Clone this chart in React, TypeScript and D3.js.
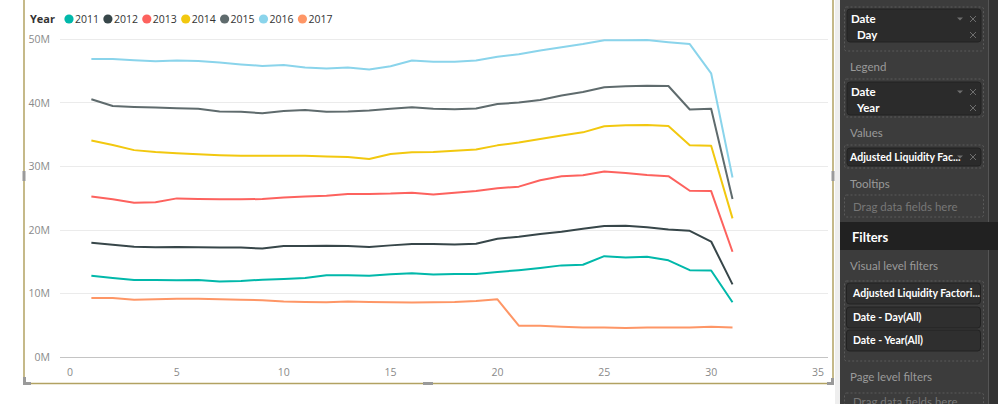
import * as d3 from 'd3';

const days = [1, 2, 3, 4, 5, 6, 7, 8, 9, 10, 11, 12, 13, 14, 15, 16, 17, 18, 19, 20, 21, 22, 23, 24, 25, 26, 27, 28, 29, 30, 31];

// values in millions
const s2011 = [12.7, 12.35, 12.05, 12.05, 12.0, 12.05, 11.8, 11.9, 12.1, 12.2, 12.35, 12.8, 12.8, 12.7, 12.95, 13.1, 12.9, 13.0, 13.0, 13.3, 13.6, 13.95, 14.35, 14.45, 15.8, 15.6, 15.7, 15.15, 13.6, 13.55, 8.55];
const s2012 = [17.9, 17.6, 17.3, 17.2, 17.25, 17.2, 17.15, 17.15, 17.0, 17.4, 17.4, 17.45, 17.4, 17.25, 17.5, 17.7, 17.7, 17.65, 17.75, 18.55, 18.85, 19.3, 19.65, 20.1, 20.55, 20.6, 20.35, 20.0, 19.8, 18.1, 11.35];
const s2013 = [25.2, 24.75, 24.2, 24.3, 24.9, 24.8, 24.75, 24.75, 24.8, 25.05, 25.2, 25.3, 25.6, 25.6, 25.65, 25.8, 25.5, 25.8, 26.05, 26.5, 26.75, 27.75, 28.4, 28.55, 29.15, 28.9, 28.6, 28.4, 26.1, 26.05, 16.5];
const s2014 = [34.0, 33.3, 32.5, 32.2, 32.0, 31.85, 31.7, 31.6, 31.6, 31.6, 31.6, 31.5, 31.4, 31.1, 31.9, 32.15, 32.2, 32.4, 32.6, 33.25, 33.7, 34.25, 34.8, 35.3, 36.25, 36.4, 36.45, 36.3, 33.25, 33.2, 21.75];
const s2015 = [40.5, 39.45, 39.3, 39.2, 39.1, 39.0, 38.6, 38.55, 38.3, 38.65, 38.8, 38.55, 38.6, 38.75, 39.0, 39.25, 39.0, 38.95, 39.05, 39.75, 40.0, 40.4, 41.1, 41.65, 42.4, 42.55, 42.65, 42.6, 38.9, 39.0, 24.8];
const s2016 = [46.85, 46.85, 46.65, 46.5, 46.6, 46.55, 46.3, 46.0, 45.75, 45.9, 45.5, 45.35, 45.5, 45.2, 45.7, 46.6, 46.4, 46.4, 46.6, 47.2, 47.6, 48.2, 48.7, 49.2, 49.8, 49.8, 49.85, 49.5, 49.2, 44.6, 28.2];
const s2017 = [9.2, 9.2, 8.95, 9.0, 9.1, 9.1, 9.0, 8.95, 8.85, 8.65, 8.6, 8.55, 8.65, 8.6, 8.55, 8.5, 8.55, 8.6, 8.75, 9.0, 4.85, 4.85, 4.7, 4.55, 4.55, 4.5, 4.55, 4.55, 4.55, 4.7, 4.55];

const years = ['2011', '2012', '2013', '2014', '2015', '2016', '2017'];
const seriesValues = [s2011, s2012, s2013, s2014, s2015, s2016, s2017];
const colors = ['#01b8aa', '#374649', '#fd625e', '#f2c80f', '#5f6b6d', '#8ad4eb', '#fe9666'];

const xTicks = [0, 5, 10, 15, 20, 25, 30, 35];
const yTicks = [0, 10, 20, 30, 40, 50];

const font = '"Segoe UI", "Open Sans", "Noto Sans", sans-serif';
const paneFont = '"Segoe UI", Lato, "Open Sans", sans-serif';

const x = d3.scaleLinear().domain([0, 35]).range([70, 818]);
const y = d3.scaleLinear().domain([0, 50]).range([356.5, 39]);

const line = d3.line<number>()
  .x((_, i) => x(days[i]))
  .y(d => y(d));

// side panel helpers
const Close = ({ cx, cy }: { cx: number; cy: number }) => (
  <path d={`M${cx - 3},${cy - 3} L${cx + 3},${cy + 3} M${cx + 3},${cy - 3} L${cx - 3},${cy + 3}`} stroke="#6e6e6e" strokeWidth={1} />
);
const Arrow = ({ cx, cy }: { cx: number; cy: number }) => (
  <path d={`M${cx - 3},${cy - 1.5} l6,0 l-3,3 z`} fill="#6e6e6e" />
);

const Item = ({ top, title, sub }: { top: number; title: string; sub: string }) => (
  <g>
    <rect x={847} y={top} width={134} height={33} rx={3} fill="#2b2b2b" stroke="#232323" />
    <text x={851} y={top + 14} fill="#fff" fontSize={11.5} fontWeight="bold">{title}</text>
    <text x={857} y={top + 30} fill="#fff" fontSize={11.5} fontWeight="bold">{sub}</text>
    <Arrow cx={960} cy={top + 10} />
    <Close cx={973} cy={top + 10} />
    <Close cx={973} cy={top + 26} />
  </g>
);

const Well = ({ top, h }: { top: number; h: number }) => (
  <rect x={844.5} y={top} width={139} height={h} rx={2} fill="none" stroke="#5a5a5a" strokeDasharray="2,2" />
);

const Label = ({ top, text }: { top: number; text: string }) => (
  <text x={850} y={top} fill="#9a9a9a" fontSize={11.5}>{text}</text>
);

const FilterItem = ({ top, text }: { top: number; text: string }) => (
  <g>
    <rect x={846.5} y={top} width={134} height={21} rx={3} fill="#2f2f2f" stroke="#222" />
    <text x={853} y={top + 14} fill="#fff" fontSize={10.5} fontWeight="bold">{text}</text>
  </g>
);

export default function App() {
  return (
    <div style={{ position: 'fixed', left: 0, top: 0 }}>
      <svg width={998} height={404} style={{ display: 'block', fontFamily: font }}>
        <rect width={998} height={404} fill="#fff" />

        {/* legend */}
        <text x={30} y={23} fontSize={11} fontWeight="bold" fill="#333">Year</text>
        {years.map((yr, i) => {
          const cx = 69 + i * 38.9;
          return (
            <g key={yr}>
              <circle cx={cx} cy={19} r={4.6} fill={colors[i]} />
              <text x={cx + 6} y={23} fontSize={10.5} fill="#333">{yr}</text>
            </g>
          );
        })}

        {/* gridlines & y labels */}
        {yTicks.map(t => (
          <g key={t}>
            <line x1={60} x2={828} y1={Math.round(y(t)) + 0.5} y2={Math.round(y(t)) + 0.5}
              stroke={t === 0 ? '#c4c4c4' : '#ebebeb'} />
            <text x={50} y={y(t) + 4} textAnchor="end" fontSize={10.5} fill="#8a8a8a">{`${t}M`}</text>
          </g>
        ))}

        {/* x labels */}
        {xTicks.map(t => (
          <text key={t} x={x(t)} y={376} textAnchor="middle" fontSize={10.5} fill="#8a8a8a">{t}</text>
        ))}

        {/* series */}
        {seriesValues.map((vals, i) => (
          <path key={years[i]} d={line(vals) || ''} fill="none" stroke={colors[i]} strokeWidth={2}
            strokeLinejoin="round" />
        ))}

        {/* visual frame */}
        <line x1={24} x2={24} y1={0} y2={383.5} stroke="#b2a262" strokeWidth={1.5} />
        <line x1={24} x2={833} y1={383.5} y2={383.5} stroke="#b2a262" strokeWidth={1.5} />
        <line x1={833} x2={833} y1={0} y2={383.5} stroke="#b2a262" strokeWidth={1.5} />
        <rect x={22.5} y={171} width={3} height={10} fill="#9a9a9a" />
        <rect x={831.5} y={171} width={3} height={10} fill="#9a9a9a" />
        <rect x={423} y={382} width={10} height={3} fill="#9a9a9a" />
        <path d="M23,377 h3 v5 h5 v3 h-8 z" fill="#9a9a9a" />
        <path d="M831,378 h3 v7 h-7 v-3 h4 z" fill="#9a9a9a" />

        {/* strip between canvas and pane */}
        <rect x={835} y={0} width={5} height={404} fill="#eeeeee" />

        {/* pane */}
        <g style={{ fontFamily: paneFont }}>
          <rect x={840} y={0} width={158} height={404} fill="#3c3c3c" />
          <rect x={988} y={0} width={10} height={404} fill="#333" />
          <line x1={988.5} x2={988.5} y1={0} y2={404} stroke="#555" />

          <Well top={7} h={44} />
          <Item top={9} title="Date" sub="Day" />

          <Label top={71} text="Legend" />
          <Well top={79} h={38} />
          <Item top={82} title="Date" sub="Year" />

          <Label top={137} text="Values" />
          <Well top={145} h={23} />
          <g>
            <rect x={847} y={148} width={134} height={18} rx={3} fill="#2b2b2b" stroke="#232323" />
            <text x={850} y={161} fill="#fff" fontSize={10.5} fontWeight="bold">Adjusted Liquidity Fac...</text>
            <Arrow cx={960} cy={157} />
            <Close cx={973} cy={157} />
          </g>

          <Label top={188} text="Tooltips" />
          <Well top={195} h={22} />
          <text x={853} y={211} fill="#777" fontSize={11.5}>Drag data fields here</text>

          <rect x={840} y={222} width={158} height={28} fill="#212121" />
          <text x={852} y={242} fill="#fff" fontSize={13} fontWeight="bold">Filters</text>

          <Label top={270} text="Visual level filters" />
          <Well top={281} h={80} />
          <FilterItem top={283} text="Adjusted Liquidity Factori..." />
          <FilterItem top={307} text="Date - Day(All)" />
          <FilterItem top={330} text="Date - Year(All)" />

          <Label top={381} text="Page level filters" />
          <Well top={393} h={30} />
          <text x={853} y={406} fill="#777" fontSize={11.5}>Drag data fields here</text>
        </g>
      </svg>
    </div>
  );
}
